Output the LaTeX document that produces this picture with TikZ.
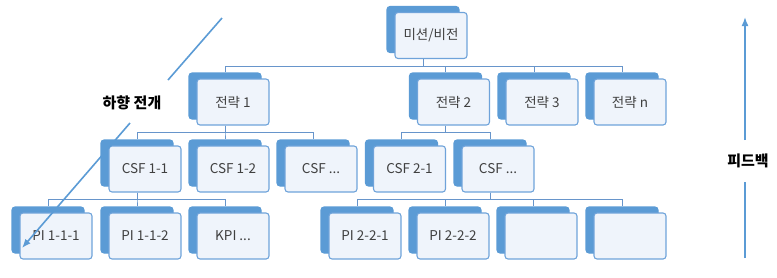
\documentclass[tikz,border=0pt]{standalone}
\usepackage{fontspec}
\usepackage{xcolor}
\usepackage{tikz}
\usetikzlibrary{shadows,arrows.meta}
\newfontfamily\kofont{Noto Sans CJK KR}
\definecolor{backblue}{HTML}{5B9BD5}
\definecolor{boxline}{HTML}{6FA3DA}
\definecolor{frontfill}{HTML}{EFF4FB}
\definecolor{lineblue}{HTML}{6795CB}
\definecolor{arrowblue}{HTML}{5B9BD5}
\definecolor{textgray}{HTML}{404040}

\begin{document}
\begin{tikzpicture}[x=1pt,y=-1pt,
  box/.style={draw=boxline, fill=frontfill, rounded corners=3pt, line width=1.1pt,
    minimum width=72pt, minimum height=46pt, inner sep=0pt, text=textgray,
    font=\kofont\fontsize{13.5}{16}\selectfont,
    copy shadow={shadow xshift=-8pt, shadow yshift=6pt, fill=backblue, draw=backblue}},
  conn/.style={draw=lineblue, line width=1pt},
  flowline/.style={draw=arrowblue, line width=1.6pt},
  flow/.style={flowline, -{Latex[length=9pt,width=7pt]}},
  note/.style={font=\kofont\bfseries\fontsize{15}{18}\selectfont}]
  \useasboundingbox (0,0) rectangle (777,277);
  % Top level
  \node[box] (m) at (431,35.5) {미션/비전};
  % Strategies
  \node[box] (s1) at (233,102) {전략 1};
  \node[box] (s2) at (453.5,102) {전략 2};
  \node[box] (s3) at (542,102) {전략 3};
  \node[box] (sn) at (630,102) {전략 n};
  % Critical success factors
  \node[box] (c11) at (145,169) {CSF 1-1};
  \node[box] (c12) at (233,169) {CSF 1-2};
  \node[box] (c1x) at (321,169) {CSF ...};
  \node[box] (c21) at (409.5,169) {CSF 2-1};
  \node[box] (c2x) at (498,169) {CSF ...};
  % Indicators
  \node[box] (p111) at (56,236) {PI 1-1-1};
  \node[box] (p112) at (145,236) {PI 1-1-2};
  \node[box] (k1x) at (233,236) {KPI ...};
  \node[box] (p221) at (365,236) {PI 2-2-1};
  \node[box] (p222) at (453,236) {PI 2-2-2};
  \node[box] (e1) at (541,236) {};
  \node[box] (e2) at (630,236) {};
  % Connectors
  \foreach \c in {s1,s2,s3,sn}
    \draw[conn] ([xshift=-8pt]m.south) -- ++(0,7) -| ([xshift=-8pt,yshift=6pt]\c.north);
  \foreach \c in {c11,c12,c1x}
    \draw[conn] ([xshift=-8pt]s1.south) -- ++(0,7) -| ([xshift=-8pt,yshift=6pt]\c.north);
  \foreach \c in {c21,c2x}
    \draw[conn] ([xshift=-8pt]s2.south) -- ++(0,7) -| ([xshift=-8pt,yshift=6pt]\c.north);
  \foreach \c in {p111,p112,k1x}
    \draw[conn] ([xshift=-8pt]c11.south) -- ++(0,7) -| ([xshift=-8pt,yshift=6pt]\c.north);
  \foreach \c in {p221,p222,e1,e2}
    \draw[conn] ([xshift=-8pt]c2x.south) -- ++(0,7) -| ([xshift=-8pt,yshift=6pt]\c.north);
  % Top-down arrow
  \node[note] (down) at (132,103) {하향 전개};
  \coordinate (d0) at (222,18);
  \coordinate (d1) at (168,80);
  \coordinate (d2) at (130,123);
  \coordinate (d3) at (22,248);
  \draw[flowline] (d0) -- (d1);
  \draw[flow] (d2) -- (d3);
  % Feedback arrow
  \node[note] (fb) at (748,161) {피드백};
  \coordinate (f0) at (745,258);
  \coordinate (f1) at (745,182);
  \coordinate (f2) at (745,140);
  \coordinate (f3) at (745,17);
  \draw[flowline] (f0) -- (f1);
  \draw[flow] (f2) -- (f3);
\end{tikzpicture}
\end{document}
